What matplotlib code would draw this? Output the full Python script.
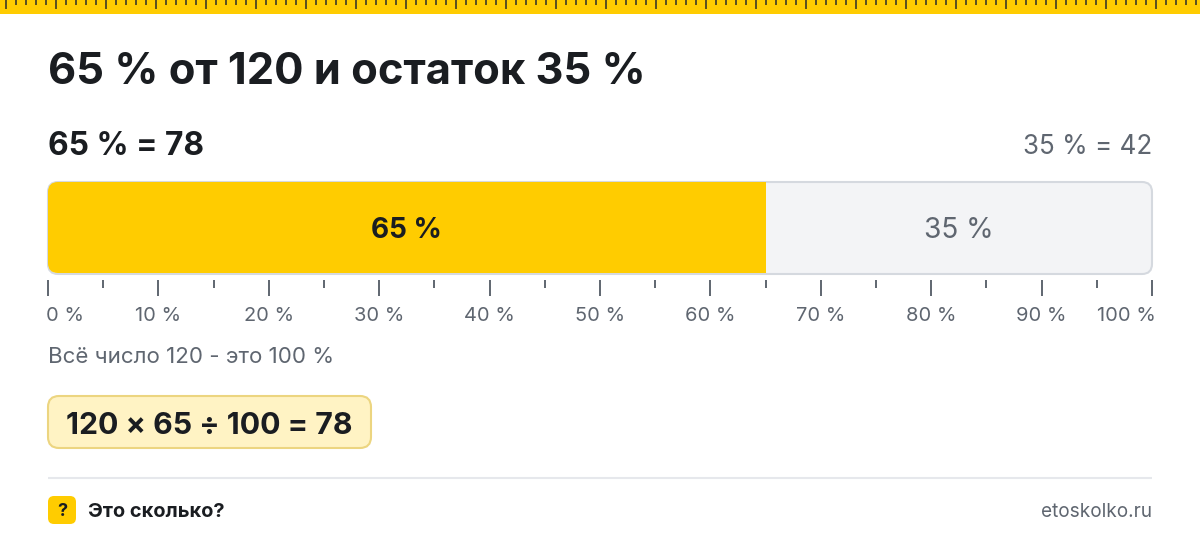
import matplotlib
matplotlib.use("Agg")
import matplotlib.pyplot as plt
from matplotlib.patches import FancyBboxPatch, Rectangle
from matplotlib.transforms import ScaledTranslation

plt.rcParams['font.family'] = ['Inter', 'DejaVu Sans']

# data
whole = 120
shares = [65, 35]
results = [78, 42]
share_colors = ['#ffcc00', '#f3f4f6']
major_ticks = list(range(0, 101, 10))
minor_ticks = list(range(5, 100, 10))
tick_labels = [f"{t} %" for t in major_ticks]

title = "65 % от 120 и остаток 35 %"
note = "Всё число 120 - это 100 %"
formula = "120 × 65 ÷ 100 = 78"
brand = "Это сколько?"
site = "etoskolko.ru"

INK = '#1a1d21'
GREY = '#5f6670'
W, H = 1200, 542

fig = plt.figure(figsize=(W / 100, H / 100), dpi=100, facecolor='white')

# overlay in pixel coordinates for the page furniture, sits above the bar
page = fig.add_axes([0, 0, 1, 1])
page.set_xlim(0, W)
page.set_ylim(H, 0)
page.axis('off')
page.set_zorder(2)


def text(x, y, s, size, color=INK, weight='normal', ha='left'):
    page.text(x, y, s, fontsize=size * 0.72, color=color, fontweight=weight,
              ha=ha, va='center_baseline')


def box(x, y, w, h, r, **kw):
    return FancyBboxPatch((x + r, y + r), w - 2 * r, h - 2 * r,
                          boxstyle=f"round,pad={r},rounding_size={r}",
                          transform=page.transData, **kw)


# ruler strip at the top
page.add_patch(Rectangle((0, 0), W, 14, fc='#ffcc00', ec='none'))
for x in range(6, W, 10):
    is_major = (x - 6) % 50 == 0
    page.add_patch(Rectangle((x - 1, 0), 2, 9 if is_major else 5,
                             fc='#5c5220', ec='none', snap=False))

text(48, 68, title, 43.5, weight='bold')
text(48, 143, f"{shares[0]} % = {results[0]}", 31.7, weight='bold')
text(1152, 144, f"{shares[1]} % = {results[1]}", 26, color=GREY, ha='right')

# the bar, on real axes going from 0 to 100
ax = fig.add_axes([48 / W, 1 - 274 / H, (1152 - 48) / W, (274 - 182) / H])
ax.set_xlim(0, 100)
ax.set_ylim(0, 1)
ax.axis('off')
ax.set_zorder(1)

# round corners have to be equal in pixels, so the clip is in page coordinates
clip = box(48, 182, 1104, 91, 10, fc='none', ec='none')
page.add_patch(clip)

# yellow part covers the frame, the grey part stays under it
left = 0
for i, (share, color) in enumerate(zip(shares, share_colors)):
    bars = ax.barh(0.5, share, left=left, height=1, color=color, linewidth=0,
                   zorder=3 if i == 0 else 1)
    bars[0].set_clip_path(clip)
    left += share

ax.add_patch(box(48, 182, 1104, 92, 10, fc='none', ec='#d5d9df', lw=1.5,
                 zorder=2, clip_on=False))

ax.text(shares[0] / 2, 0.5, f"{shares[0]} %", fontsize=28 * 0.72, color=INK,
        fontweight='bold', ha='center', va='center_baseline', zorder=4)
ax.text(shares[0] + shares[1] / 2, 0.5, f"{shares[1]} %", fontsize=28 * 0.72,
        color=GREY, ha='center', va='center_baseline', zorder=4)

# scale sits a few pixels under the bar, same 0-100 range
scale = fig.add_axes([48 / W, 1 - 280 / H, (1152 - 48) / W, 0.001])
scale.set_xlim(0, 100)
scale.set_yticks([])
for s in scale.spines.values():
    s.set_visible(False)
scale.patch.set_visible(False)
scale.set_xticks(major_ticks)
scale.set_xticklabels(tick_labels, fontsize=20 * 0.72, color=GREY)
scale.set_xticks(minor_ticks, minor=True)
scale.tick_params(axis='x', which='major', length=11.5, width=1.4, color=GREY, pad=8)
scale.tick_params(axis='x', which='minor', length=5.8, width=1.4, color=GREY)
# end labels stay about inside the bar's width
labels = scale.get_xticklabels()
labels[0].set_ha('left')
labels[-1].set_ha('right')
labels[0].set_transform(labels[0].get_transform() + ScaledTranslation(-2 / 100, 0, fig.dpi_scale_trans))
labels[-1].set_transform(labels[-1].get_transform() + ScaledTranslation(3.5 / 100, 0, fig.dpi_scale_trans))

text(48, 355, note, 22.3, color=GREY)

# formula badge
page.add_patch(box(48, 396, 323, 52, 11, fc='#fff3c4', ec='#ecd580', lw=1.5))
text(66, 423, formula, 30.2, weight='bold')

# footer
page.plot([48, 1152], [478, 478], color='#e6e8ec', lw=1.5, solid_capstyle='butt')
page.add_patch(box(48, 496, 28, 28, 6, fc='#ffcc00', ec='none'))
text(62, 510, "?", 18, weight='bold', ha='center')
text(88, 510, brand, 20, weight='bold')
text(1152, 510, site, 19, color=GREY, ha='right')

fig.savefig("out.png", dpi=100, facecolor='white')
